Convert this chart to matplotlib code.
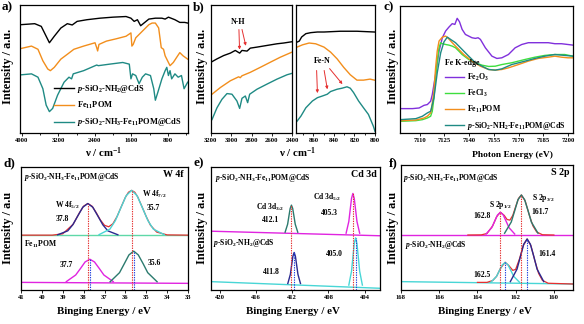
import matplotlib
matplotlib.use("Agg")
import matplotlib.pyplot as plt
from matplotlib.ticker import MultipleLocator

plt.rcParams["font.family"] = "Liberation Serif"
plt.rcParams["font.weight"] = "bold"
plt.rcParams["mathtext.fontset"] = "custom"
plt.rcParams["mathtext.rm"] = "Liberation Serif:bold"
plt.rcParams["mathtext.it"] = "Liberation Serif:italic:bold"
plt.rcParams["mathtext.bf"] = "Liberation Serif:bold"

# ---------------- a) FTIR ----------------
ftir_black_x = [4030, 3715, 3572, 3465, 3394, 3287, 3144, 3002, 2895, 2788, 2574, 2289, 2004, 1718,
                1611, 1540, 1469, 1398, 1326, 1219, 1077, 934, 863, 791, 649, 542, 435, 370]
ftir_black_y = [84.6, 85.4, 83.3, 75.6, 70.5, 75.6, 82.0, 85.4, 84.4, 87.2, 88.5, 89.7, 90.5, 91.0,
                89.7, 87.2, 88.5, 83.8, 85.9, 89.0, 89.7, 89.7, 89.0, 90.5, 88.5, 86.4, 86.4, 85.9]
ftir_orange_x = [4030, 3786, 3644, 3537, 3430, 3373, 3287, 3144, 3002, 2859, 2645, 2396, 2360, 2339,
                 2310, 2146, 1932, 1718, 1611, 1590, 1562, 1505, 1362, 1219, 1148, 1077, 1005, 948,
                 898, 863, 827, 756, 684, 613, 542, 471, 370]
ftir_orange_y = [65.9, 67.9, 65.4, 56.4, 50.0, 48.7, 51.3, 57.7, 61.5, 65.4, 67.9, 70.5, 66.7, 64.1,
                 69.2, 71.8, 73.6, 75.6, 78.2, 67.9, 69.2, 74.4, 79.5, 84.6, 85.9, 85.9, 82.1, 66.7,
                 65.4, 60.3, 57.7, 52.6, 55.1, 59.0, 62.8, 60.3, 57.7]
ftir_teal_x = [4030, 3786, 3644, 3537, 3465, 3394, 3323, 3216, 3073, 2966, 2909, 2873, 2645, 2360,
               2324, 2075, 1790, 1647, 1611, 1576, 1505, 1433, 1362, 1291, 1184, 1112, 1077, 1020,
               934, 863, 827, 791, 756, 720, 649, 578, 506, 449, 370]
ftir_teal_y = [45.4, 46.2, 43.6, 34.6, 21.8, 16.7, 19.2, 29.5, 39.7, 43.6, 42.3, 46.2, 48.7, 53.1,
               52.6, 53.8, 55.1, 53.8, 42.3, 46.2, 44.9, 38.5, 43.6, 46.2, 44.9, 34.6, 25.6, 32.1,
               42.3, 48.7, 51.3, 44.9, 48.7, 42.3, 46.2, 43.6, 44.9, 34.6, 39.7]
ftir_labels = [r"$p$-SiO$_2$-NH$_2$@CdS", r"Fe$_{11}$POM", r"$p$-SiO$_2$-NH$_3$-Fe$_{11}$POM@CdS"]

# ---------------- b) FTIR zoom ----------------
nh_black_x = [3200, 3141, 3075, 3009, 2960, 2917, 2894, 2844, 2812, 2746, 2647, 2548, 2482, 2400]
nh_black_y = [55.3, 57.9, 60.5, 62.4, 64.5, 62.4, 64.5, 64.0, 66.3, 67.1, 68.4, 69.7, 70.3, 71.3]
nh_orange_x = [3190, 3108, 3009, 2927, 2911, 2894, 2812, 2713, 2614, 2516, 2400]
nh_orange_y = [30.3, 35.5, 40.8, 43.9, 43.2, 44.7, 47.4, 51.3, 55.3, 59.2, 63.2]
nh_teal_x = [3190, 3141, 3092, 3042, 2993, 2944, 2917, 2894, 2861, 2838, 2818, 2746, 2647, 2548,
             2449, 2400]
nh_teal_y = [10.5, 19.7, 26.3, 30.8, 30.3, 25.0, 19.2, 27.1, 28.9, 23.7, 30.3, 34.2, 38.2, 42.1,
             45.5, 46.6]
fen_black_x = [876, 873.8, 871.5, 867.4, 862.6, 856.1, 849.7, 833.7, 817.6, 800.6]
fen_black_y = [71.0, 71.8, 75.0, 77.6, 78.4, 78.9, 78.9, 79.5, 79.5, 78.9]
fen_orange_x = [876, 870.6, 864.2, 857.8, 849.7, 843.3, 836.9, 830.5, 824.1, 817.6, 811.2, 804.8, 800.6]
fen_orange_y = [67.1, 68.9, 70.3, 69.7, 67.1, 63.2, 57.9, 51.3, 45.5, 41.3, 41.3, 42.1, 41.3]
fen_teal_x = [876, 872.2, 867.4, 861, 856.1, 851.3, 846.5, 843.3, 836.9, 832.1, 827.3, 824.1, 820.9,
              816, 811.2, 806.4, 801.6, 800]
fen_teal_y = [9.2, 13.2, 19.7, 25.0, 27.6, 28.9, 30.3, 32.4, 34.2, 35.0, 36.1, 35.0, 31.6, 25.0,
              19.7, 14.5, 5.3, 1.3]

# ---------------- c) XANES ----------------
xanes_fe2o3_x = [7098, 7105.6, 7109.6, 7112.6, 7114.6, 7116.6, 7117.6, 7119.6, 7121.7, 7123.7, 7125.7,
                 7127.7, 7129.7, 7131.3, 7132.7, 7134.1, 7135.7, 7137.7, 7139.7, 7141.7, 7143.8,
                 7145.4, 7146.8, 7149.8, 7153.8, 7156.8, 7159.8, 7163.8, 7167.9, 7171.9, 7175.9,
                 7179.9, 7183.9, 7188, 7192, 7196, 7203]
xanes_fe2o3_y = [19.2, 19.2, 19.7, 21.8, 22.4, 25.0, 30.3, 46.1, 64.5, 75.0, 80.3, 83.4, 86.1, 85.5,
                 90.3, 87.6, 81.6, 77.6, 76.3, 75.0, 74.5, 75.0, 73.7, 67.1, 60.5, 58.7, 59.2, 61.8,
                 67.1, 69.7, 71.1, 71.1, 71.1, 71.1, 70.3, 70.3, 69.2]
xanes_fecl3_x = [7098, 7107.6, 7111.6, 7114.6, 7116.6, 7117.6, 7118.6, 7119.6, 7120.6, 7121.7, 7122.7,
                 7123.7, 7125.7, 7127.7, 7129.7, 7131.7, 7133.7, 7135.7, 7139.7, 7143.8, 7147.8,
                 7151.8, 7155.8, 7159.8, 7165.8, 7173.9, 7179.9, 7185.9, 7192, 7198, 7203]
xanes_fecl3_y = [9.2, 9.7, 10.5, 11.8, 13.2, 17.1, 27.6, 43.4, 56.6, 67.1, 71.1, 70.3, 69.7, 69.2,
                 68.4, 67.1, 64.5, 61.8, 57.9, 55.3, 53.4, 52.4, 52.6, 53.9, 55.3, 57.9, 59.7, 61.1,
                 61.8, 61.8, 60.5]
xanes_pom_x = [7098, 7107.6, 7112.6, 7114.6, 7116.6, 7117.2, 7118.6, 7119.6, 7120.6, 7121.7, 7123.7,
               7125.7, 7127.3, 7129.7, 7132.7, 7136.7, 7141.7, 7146.8, 7151.8, 7155.8, 7159.8,
               7163.8, 7169.9, 7175.9, 7181.9, 7188, 7192, 7196, 7200, 7203]
xanes_pom_y = [9.7, 10.2, 11.8, 13.2, 15.8, 19.7, 32.9, 51.3, 64.5, 72.4, 75.5, 76.3, 74.5, 71.1,
               67.1, 61.8, 56.6, 52.6, 50.0, 49.5, 50.0, 51.3, 53.9, 56.6, 58.7, 59.7, 60.5, 59.7,
               59.2, 59.2]
xanes_comp_x = [7098, 7107.6, 7111.6, 7114.6, 7116.6, 7118.6, 7120.6, 7122.7, 7124.7, 7126.7, 7128.7,
                7131.7, 7135.7, 7139.7, 7143.8, 7147.8, 7151.8, 7155.8, 7159.8, 7165.8, 7173.9,
                7179.9, 7185.9, 7192, 7198, 7203]
xanes_comp_y = [10.5, 11.3, 13.2, 15.8, 17.1, 27.6, 47.4, 63.2, 71.8, 75.5, 73.7, 71.1, 65.8, 60.5,
                55.3, 52.6, 50.0, 49.5, 50.5, 53.9, 56.6, 58.7, 60.5, 61.8, 61.1, 60.5]
xanes_labels = [r"Fe$_2$O$_3$", r"FeCl$_3$", r"Fe$_{11}$POM", r"$p$-SiO$_2$-NH$_2$-Fe$_{11}$POM@CdS"]

# ---------------- d) W 4f ----------------
w_up_base_x = [41, 33]
w_up_base_y = [44.6, 44.6]
w_up_env_x = [41, 39.5, 39.0, 38.5, 38.2, 38.0, 37.8, 37.6, 37.4, 37.2, 37.0, 36.8, 36.6, 36.4, 36.2,
              36.0, 35.85, 35.7, 35.55, 35.4, 35.2, 35.0, 34.8, 34.5, 34.0, 33.0]
w_up_env_y = [44.6, 44.6, 45.7, 53.5, 62.8, 68.2, 70.3, 68.2, 63.0, 57.0, 52.6, 51.4, 53.8, 59.7,
              67.6, 75.4, 79.5, 81.0, 79.5, 75.4, 67.6, 59.7, 52.7, 47.1, 44.8, 44.6]
w_up_52_x = [39.24, 38.76, 38.52, 38.28, 38.04, 37.8, 37.56, 37.32, 37.08, 36.84, 36.36]
w_up_52_y = [44.9, 48.1, 53.0, 60.2, 67.3, 70.3, 67.3, 60.2, 53.0, 48.1, 44.9]
w_up_72_x = [37.26, 36.74, 36.48, 36.22, 35.96, 35.7, 35.44, 35.18, 34.92, 34.66, 34.14]
w_up_72_y = [45.0, 49.5, 56.4, 66.7, 76.7, 81.0, 76.7, 66.7, 56.4, 49.5, 45.0]
w_lo_base_x = [41, 33]
w_lo_base_y = [6.2, 5.4]
w_lo_52_x = [38.83, 38.38, 38.15, 37.93, 37.7, 37.48, 37.25, 37.03, 36.58]
w_lo_52_y = [6.8, 12.2, 17.5, 22.8, 25.0, 22.8, 17.5, 12.2, 6.8]
w_lo_72_x = [36.73, 36.28, 36.05, 35.83, 35.6, 35.38, 35.15, 34.93, 34.48]
w_lo_72_y = [6.7, 14.1, 21.4, 28.5, 31.6, 28.5, 21.4, 14.1, 6.7]
w_up_peaks = [37.8, 35.7]
w_up_tops = [70.3, 81.0]
w_lo_peaks = [37.7, 35.6]
w_lo_tops = [25.0, 31.6]

# ---------------- e) Cd 3d ----------------
cd_up_base_x = [421, 402.3]
cd_up_base_y = [47.8, 44.1]
cd_up_32_x = [412.8, 412.52, 412.38, 412.24, 412.1, 411.96, 411.82, 411.68, 411.4]
cd_up_32_y = [47.0, 53.5, 60.0, 66.3, 69.0, 66.3, 60.0, 53.5, 47.0]
cd_up_52_x = [406.05, 405.75, 405.6, 405.45, 405.3, 405.15, 405.0, 404.85, 404.55]
cd_up_52_y = [46.2, 55.7, 65.2, 74.5, 78.5, 74.5, 65.2, 55.7, 46.2]
cd_lo_base_x = [421, 402.3]
cd_lo_base_y = [6.8, 1.4]
cd_lo_32_x = [412.5, 412.22, 412.08, 411.94, 411.8, 411.66, 411.52, 411.38, 411.1]
cd_lo_32_y = [5.3, 12.7, 20.1, 27.4, 30.5, 27.4, 20.1, 12.7, 5.3]
cd_lo_52_x = [405.75, 405.45, 405.3, 405.15, 405.0, 404.85, 404.7, 404.55, 404.25]
cd_lo_52_y = [4.0, 15.3, 26.6, 37.7, 42.4, 37.7, 26.6, 15.3, 4.0]
cd_up_peaks = [412.1, 405.3]
cd_up_tops = [69.0, 78.5]
cd_lo_peaks = [411.8, 405.0]
cd_lo_tops = [30.5, 42.4]

# ---------------- f) S 2p ----------------
s_up_base_x = [168, 159]
s_up_base_y = [44.0, 44.0]
s_up_env_x = [164.5, 163.8, 163.5, 163.2, 163.0, 162.8, 162.6, 162.45, 162.3, 162.15, 162.0, 161.85,
              161.7, 161.5, 161.3, 161.1, 160.9, 160.6, 160.0]
s_up_env_y = [44.0, 44.1, 45.2, 51.4, 58.5, 62.3, 59.7, 56.4, 55.9, 59.7, 66.7, 73.3, 76.0, 71.2,
              60.6, 51.4, 46.4, 44.2, 44.0]
s_up_12_x = [163.55, 163.25, 163.1, 162.95, 162.8, 162.65, 162.5, 162.35, 162.05]
s_up_12_y = [44.8, 49.9, 55.0, 60.0, 62.1, 60.0, 55.0, 49.9, 44.8]
s_up_32_x = [162.58, 162.23, 162.05, 161.88, 161.7, 161.53, 161.35, 161.18, 160.83]
s_up_32_y = [45.4, 54.4, 63.4, 72.2, 76.0, 72.2, 63.4, 54.4, 45.4]
s_lo_base_x = [168, 159]
s_lo_base_y = [6.7, 4.8]
s_lo_env_x = [164.0, 163.5, 163.2, 163.0, 162.8, 162.55, 162.35, 162.15, 162.0, 161.8, 161.6, 161.4,
              161.2, 161.0, 160.8, 160.6, 160.3, 159.0]
s_lo_env_y = [6.1, 6.1, 7.6, 10.9, 17.2, 22.2, 19.4, 15.7, 16.5, 24.9, 35.6, 40.8, 35.4, 23.7, 13.3,
              7.7, 5.4, 4.8]
s_lo_12_x = [163.3, 163.0, 162.85, 162.7, 162.55, 162.4, 162.25, 162.1, 161.8]
s_lo_12_y = [6.2, 10.9, 15.5, 20.1, 22.0, 20.1, 15.5, 10.9, 6.2]
s_lo_32_x = [162.28, 161.93, 161.75, 161.58, 161.4, 161.23, 161.05, 160.88, 160.53]
s_lo_32_y = [6.7, 16.7, 26.8, 36.6, 40.8, 36.6, 26.8, 16.7, 6.7]
s_up_peaks = [162.8, 161.7]
s_up_tops = [62.3, 76.0]
s_lo_peaks = [162.55, 161.4]
s_lo_tops = [22.2, 40.8]

TEAL = "#1f8a84"
ORANGE = "#f28e1c"
PURPLE = "#8030dc"
GREEN = "#3ede3e"
NAVY = "#2a2a90"
CYAN = "#48d6d6"
MAGENTA = "#e024e0"
DTEAL = "#2b7a6e"
RED = "#e53030"
BLUE = "#2040e0"

W, H = 584, 324
fig = plt.figure(figsize=(W / 100, H / 100), dpi=100)


def px_axes(x0, y0, x1, y1):
    return fig.add_axes([x0 / W, 1 - y1 / H, (x1 - x0) / W, (y1 - y0) / H])


def style(ax, xlim, major, minor=None):
    ax.set_xlim(*xlim)
    ax.set_ylim(0, 100)
    ax.set_yticks([])
    ax.xaxis.set_major_locator(MultipleLocator(major))
    if minor:
        ax.xaxis.set_minor_locator(MultipleLocator(minor))
    ax.tick_params(axis="x", which="both", direction="out", labelsize=4.8, width=0.6, pad=1.5)
    ax.tick_params(axis="x", which="major", length=2.2)
    ax.tick_params(axis="x", which="minor", length=1.2)
    for s in ax.spines.values():
        s.set_linewidth(0.9)


def ytext(x, y, s):
    fig.text(x / W, 1 - y / H, s, rotation=90, ha="center", va="center", fontsize=8.8)


def ptext(x, y, s):
    fig.text(x / W, 1 - y / H, s, ha="left", va="top", fontsize=9.5)


# a)
ax = px_axes(20, 5, 188, 133)
ax.plot(ftir_black_x, ftir_black_y, color="black", lw=1.0, label=ftir_labels[0])
ax.plot(ftir_orange_x, ftir_orange_y, color=ORANGE, lw=1.0, label=ftir_labels[1])
ax.plot(ftir_teal_x, ftir_teal_y, color=TEAL, lw=1.0, label=ftir_labels[2])
style(ax, (4037, 363), 800, 400)
ax.legend(loc="lower left", bbox_to_anchor=(0.17, -0.01), frameon=False, fontsize=6,
          handlelength=2.4, labelspacing=0.6, handletextpad=0.3, borderpad=0.2)
fig.text(104 / W, 1 - 153 / H, r"ν / cm$^{-1}$", ha="center", va="center", fontsize=7.8)
ytext(8, 66, "Intensity / a.u.")
ptext(2, 1, "a)")

# b)
ax1 = px_axes(211, 5, 292, 133)
ax1.plot(nh_black_x, nh_black_y, color="black", lw=1.0)
ax1.plot(nh_orange_x, nh_orange_y, color=ORANGE, lw=1.0)
ax1.plot(nh_teal_x, nh_teal_y, color=TEAL, lw=1.0)
style(ax1, (3200, 2400), 200)
ax1.text(2935, 87, "N-H", ha="center", va="center", fontsize=5.8)
for tx, ty, hx, hy in [(2925, 83, 2917, 63), (2900, 83, 2850, 66)]:
    ax1.annotate("", xy=(hx, hy), xytext=(tx, ty),
                 arrowprops=dict(arrowstyle="-|>", color=RED, lw=0.7, mutation_scale=4))
ax2 = px_axes(296, 5, 375, 133)
ax2.plot(fen_black_x, fen_black_y, color="black", lw=1.0)
ax2.plot(fen_orange_x, fen_orange_y, color=ORANGE, lw=1.0)
ax2.plot(fen_teal_x, fen_teal_y, color=TEAL, lw=1.0)
style(ax2, (877, 800), 20, 10)
ax2.text(851, 56, "Fe-N", ha="center", va="center", fontsize=5.8)
for tx, ty, hx, hy in [(857, 51, 856, 29), (850, 51, 846, 32), (846, 52, 830, 36.5)]:
    ax2.annotate("", xy=(hx, hy), xytext=(tx, ty),
                 arrowprops=dict(arrowstyle="-|>", color=RED, lw=0.7, mutation_scale=4))
fig.text(298 / W, 1 - 153 / H, r"ν / cm$^{-1}$", ha="center", va="center", fontsize=7.8)
ytext(202, 66, "Intensity / a.u.")
ptext(193, 1, "b)")

# c)
ax = px_axes(400, 6, 573, 133)
ax.plot(xanes_fe2o3_x, xanes_fe2o3_y, color=PURPLE, lw=1.0, label=xanes_labels[0])
ax.plot(xanes_fecl3_x, xanes_fecl3_y, color=GREEN, lw=1.0, label=xanes_labels[1])
ax.plot(xanes_pom_x, xanes_pom_y, color=ORANGE, lw=1.0, label=xanes_labels[2])
ax.plot(xanes_comp_x, xanes_comp_y, color=TEAL, lw=1.0, label=xanes_labels[3])
style(ax, (7098, 7203), 15)
ax.legend(loc="lower left", bbox_to_anchor=(0.23, -0.035), frameon=False, fontsize=5.7,
          handlelength=2.4, labelspacing=0.6, handletextpad=0.3, borderpad=0.2,
          title="Fe K-edge", title_fontsize=5.7, alignment="left")
fig.text(512 / W, 1 - 155 / H, "Photon Energy (eV)", ha="center", va="center", fontsize=6.8)
ytext(393, 66, "Intensity / a.u.")
ptext(383, 1, "c)")


def vmarks(ax, peaks, tops, color):
    ax.vlines(peaks, 0, tops, colors=color, linestyles=(0, (1.2, 1.0)), lw=0.8)


def atext(ax, fx, fy, s, ha="center", size=5.5):
    ax.text(fx, fy, s, transform=ax.transAxes, ha=ha, va="center", fontsize=size)


# d)
ax = px_axes(21, 167, 188, 290)
ax.plot(w_up_base_x, w_up_base_y, color="#5fd8a8", lw=1.0)
ax.plot(w_up_env_x, w_up_env_y, color=RED, lw=0.9)
ax.plot(w_up_52_x, w_up_52_y, color=NAVY, lw=1.0)
ax.plot(w_up_72_x, w_up_72_y, color=CYAN, lw=1.0)
ax.plot(w_lo_base_x, w_lo_base_y, color=MAGENTA, lw=1.0)
ax.plot(w_lo_52_x, w_lo_52_y, color=MAGENTA, lw=1.0)
ax.plot(w_lo_72_x, w_lo_72_y, color=DTEAL, lw=1.0)
vmarks(ax, w_up_peaks, w_up_tops, RED)
vmarks(ax, w_lo_peaks, w_lo_tops, BLUE)
style(ax, (41, 33), 1)
atext(ax, 0.02, 0.92, r"$p$-SiO$_2$-NH$_3$-Fe$_{11}$POM@CdS", ha="left")
atext(ax, 0.975, 0.94, "W 4f", ha="right", size=7.2)
atext(ax, 0.28, 0.69, r"W 4f$_{5/2}$")
atext(ax, 0.25, 0.58, "37.8")
atext(ax, 0.80, 0.78, r"W 4f$_{7/2}$")
atext(ax, 0.79, 0.67, "35.7")
atext(ax, 0.02, 0.37, r"Fe$_{11}$POM", ha="left")
atext(ax, 0.27, 0.20, "37.7")
atext(ax, 0.80, 0.22, "35.6")
fig.text(104 / W, 1 - 312 / H, "Binging Energy / eV", ha="center", va="center", fontsize=7.8)
ytext(8, 228, "Intensity / a.u")
ptext(3, 157, "d)")

# e)
ax = px_axes(211, 167, 380, 290)
ax.plot(cd_up_base_x, cd_up_base_y, color=MAGENTA, lw=1.0)
ax.plot(cd_up_32_x, cd_up_32_y, color=DTEAL, lw=1.0)
ax.plot(cd_up_52_x, cd_up_52_y, color=MAGENTA, lw=1.0)
ax.plot(cd_lo_base_x, cd_lo_base_y, color=CYAN, lw=1.0)
ax.plot(cd_lo_32_x, cd_lo_32_y, color=NAVY, lw=1.0)
ax.plot(cd_lo_52_x, cd_lo_52_y, color=CYAN, lw=1.0)
vmarks(ax, cd_up_peaks, cd_up_tops, RED)
vmarks(ax, cd_lo_peaks, cd_lo_tops, BLUE)
style(ax, (421, 402.3), 4)
atext(ax, 0.024, 0.91, r"$p$-SiO$_2$-NH$_3$-Fe$_{11}$POM@CdS", ha="left")
atext(ax, 0.98, 0.94, "Cd 3d", ha="right", size=7.2)
atext(ax, 0.35, 0.67, r"Cd 3d$_{3/2}$")
atext(ax, 0.355, 0.57, "412.1")
atext(ax, 0.69, 0.75, r"Cd 3d$_{5/2}$")
atext(ax, 0.70, 0.63, "405.3")
atext(ax, 0.012, 0.38, r"$p$-SiO$_2$-NH$_2$@CdS", ha="left")
atext(ax, 0.36, 0.15, "411.8")
atext(ax, 0.73, 0.29, "405.0")
fig.text(293 / W, 1 - 312 / H, "Binging Energy / eV", ha="center", va="center", fontsize=7.8)
ytext(202, 228, "Intensity / a.u")
ptext(193, 157, "e)")

# f)
ax = px_axes(401, 165, 573, 290)
ax.plot(s_up_base_x, s_up_base_y, color=MAGENTA, lw=1.0)
ax.plot(s_up_env_x, s_up_env_y, color=RED, lw=0.9)
ax.plot(s_up_12_x, s_up_12_y, color=MAGENTA, lw=1.0)
ax.plot(s_up_32_x, s_up_32_y, color=DTEAL, lw=1.0)
ax.plot(s_lo_base_x, s_lo_base_y, color=CYAN, lw=1.0)
ax.plot(s_lo_env_x, s_lo_env_y, color=RED, lw=0.9)
ax.plot(s_lo_12_x, s_lo_12_y, color=CYAN, lw=1.0)
ax.plot(s_lo_32_x, s_lo_32_y, color=NAVY, lw=1.0)
vmarks(ax, s_up_peaks, s_up_tops, RED)
vmarks(ax, s_lo_peaks, s_lo_tops, BLUE)
style(ax, (168, 159), 2)
atext(ax, 0.012, 0.90, r"$p$-SiO$_2$-NH$_3$-Fe$_{11}$POM@CdS", ha="left")
atext(ax, 0.98, 0.94, "S 2p", ha="right", size=7.2)
atext(ax, 0.58, 0.68, r"S 2p$_{1/2}$")
atext(ax, 0.47, 0.59, "162.8")
atext(ax, 0.83, 0.74, r"S 2p$_{3/2}$")
atext(ax, 0.81, 0.62, "161.7")
atext(ax, 0.023, 0.36, r"$p$-SiO$_2$-NH$_2$@CdS", ha="left")
atext(ax, 0.85, 0.29, "161.4")
atext(ax, 0.47, 0.12, "162.5")
fig.text(485 / W, 1 - 312 / H, "Binging Energy / eV", ha="center", va="center", fontsize=7.8)
ytext(393, 228, "Intensity / a.u")
ptext(389, 157, "f)")

fig.savefig("out.png", dpi=100)
